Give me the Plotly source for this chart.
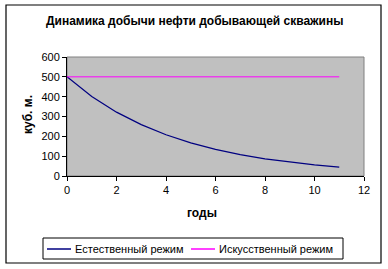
import plotly.graph_objects as go

years = [0, 1, 2, 3, 4, 5, 6, 7, 8, 9, 10, 11]
natural = [500, 401, 322, 259, 208, 167, 134, 108, 86, 70, 56, 45]
artificial = [500, 500, 500, 500, 500, 500, 500, 500, 500, 500, 500, 500]
name_nat = "Естественный режим"
name_art = "Искусственный режим"
title = "Динамика добычи нефти добывающей скважины"
xlab = "годы"
ylab = "куб. м."

W, H = 388, 269
L, R, T, B = 67, 364, 57, 176
pw, ph = R - L, B - T

def px(x):
    return (x - L) / pw

def py(y):
    return (B - y) / ph

c_nat, c_art = "#000080", "#FF00FF"

fig = go.Figure()
fig.add_trace(go.Scatter(x=years, y=natural, mode="lines", name=name_nat,
                         line=dict(color=c_nat, width=1.2)))
fig.add_trace(go.Scatter(x=years, y=artificial, mode="lines", name=name_art,
                         line=dict(color=c_art, width=1)))

font = "Arial, Liberation Sans, sans-serif"
legend_y = 249
fig.update_layout(
    width=W, height=H,
    margin=dict(l=L, r=W - R, t=T, b=H - B, autoexpand=False),
    paper_bgcolor="white", plot_bgcolor="#C0C0C0",
    font=dict(family=font, size=11, color="black"),
    showlegend=False,
    xaxis=dict(range=[0, 12], dtick=2, showgrid=False, zeroline=False,
               showline=True, linecolor="black", linewidth=1,
               ticks="outside", ticklen=4, tickcolor="black",
               tickfont=dict(size=11)),
    yaxis=dict(range=[0, 600], dtick=100, showgrid=False, zeroline=False,
               showline=True, linecolor="black", linewidth=1,
               ticks="outside", ticklen=4, tickcolor="black",
               tickfont=dict(size=11)),
    shapes=[
        dict(type="rect", xref="paper", yref="paper", x0=0, x1=1, y0=0, y1=1,
             line=dict(color="#808080", width=1), layer="below"),
        dict(type="rect", xref="paper", yref="paper",
             x0=px(6), x1=px(381), y0=py(263), y1=py(5),
             line=dict(color="black", width=1.2)),
        dict(type="rect", xref="paper", yref="paper",
             x0=px(43), x1=px(343), y0=py(259), y1=py(238),
             line=dict(color="black", width=1), fillcolor="white"),
        dict(type="line", xref="paper", yref="paper",
             x0=px(47), x1=px(71), y0=py(legend_y), y1=py(legend_y),
             line=dict(color=c_nat, width=1.5)),
        dict(type="line", xref="paper", yref="paper",
             x0=px(191), x1=px(215), y0=py(legend_y), y1=py(legend_y),
             line=dict(color=c_art, width=1.5)),
    ],
    annotations=[
        dict(text="<b>" + title + "</b>", xref="paper", yref="paper",
             x=px(194), y=py(21), showarrow=False, font=dict(size=12),
             xanchor="center", yanchor="middle"),
        dict(text="<b>" + xlab + "</b>", xref="paper", yref="paper",
             x=px(202), y=py(213), showarrow=False, font=dict(size=12),
             xanchor="center", yanchor="middle"),
        dict(text="<b>" + ylab + "</b>", xref="paper", yref="paper",
             x=px(28), y=py(114), showarrow=False, font=dict(size=12),
             textangle=-90, xanchor="center", yanchor="middle"),
        dict(text=name_nat, xref="paper", yref="paper",
             x=px(73), y=py(legend_y), showarrow=False, font=dict(size=11),
             xanchor="left", yanchor="middle"),
        dict(text=name_art, xref="paper", yref="paper",
             x=px(217), y=py(legend_y), showarrow=False, font=dict(size=11),
             xanchor="left", yanchor="middle"),
    ],
)

fig.write_html("out.html")
